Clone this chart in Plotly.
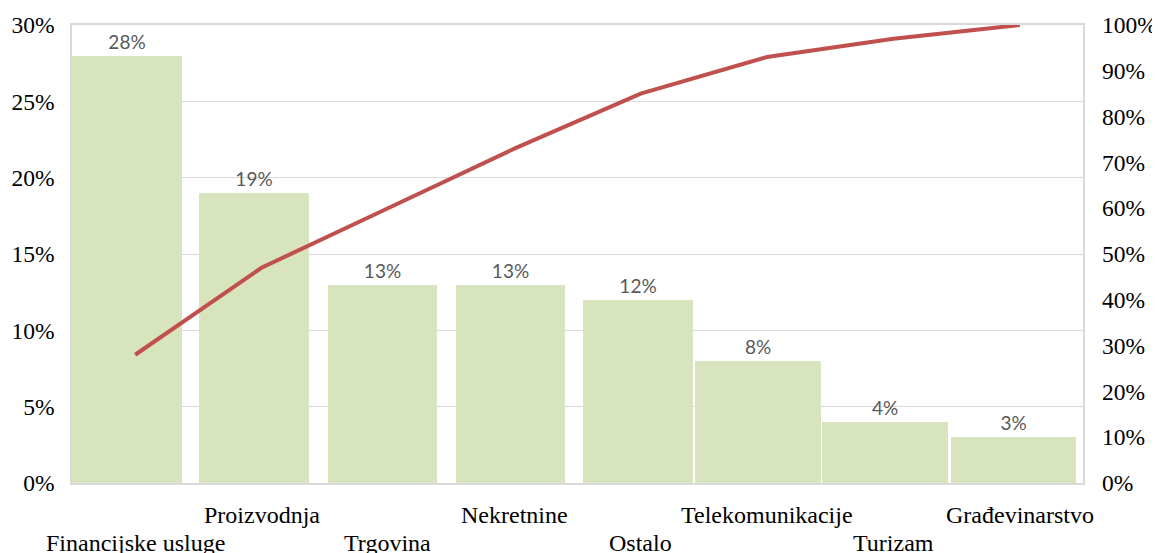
import plotly.graph_objects as go

categories = ["Financijske usluge", "Proizvodnja", "Trgovina", "Nekretnine",
              "Ostalo", "Telekomunikacije", "Turizam", "Građevinarstvo"]
shares = [0.28, 0.19, 0.13, 0.13, 0.12, 0.08, 0.04, 0.03]
cumulative = [0.28, 0.47, 0.60, 0.73, 0.85, 0.93, 0.97, 1.00]
left_ticks = [0, 0.05, 0.10, 0.15, 0.20, 0.25, 0.30]
right_ticks = [0, 0.1, 0.2, 0.3, 0.4, 0.5, 0.6, 0.7, 0.8, 0.9, 1.0]

# styling of the (slightly irregular) bar geometry, in category units
bar_offsets = [-0.5, -0.493, -0.477, -0.464, -0.457, -0.574, -0.566, -0.548]
bar_widths = [0.868, 0.870, 0.867, 0.862, 0.873, 0.997, 0.999, 0.994]

SERIF = "Liberation Serif, Times New Roman, serif"
GRID = "#d9d9d9"

fig = go.Figure()
fig.add_trace(go.Bar(
    x=categories, y=shares,
    offset=bar_offsets, width=bar_widths,
    marker=dict(color="#d7e4bd", line=dict(width=0)),
    texttemplate="%{y:.0%}", textposition="outside",
    textfont=dict(family="Lato, Liberation Sans, sans-serif", size=19, color="#595959"),
    cliponaxis=False, showlegend=False, hoverinfo="skip",
))
fig.add_trace(go.Scatter(
    x=categories, y=cumulative, yaxis="y2", mode="lines",
    line=dict(color="#c0504d", width=4),
    showlegend=False, hoverinfo="skip",
))

annotations = []
for i, c in enumerate(categories):
    annotations.append(dict(
        x=c, xref="x", y=0, yref="paper",
        yshift=-32 if i % 2 == 1 else -60,
        yanchor="middle", xanchor="center", showarrow=False,
        text=c, font=dict(family=SERIF, size=24, color="#000000"),
    ))

# page body has an 8px default margin, so the figure is sized to fit after it
fig.update_layout(
    width=1152, height=545,
    margin=dict(l=64, r=77, t=17, b=70, autoexpand=False),
    paper_bgcolor="white", plot_bgcolor="white",
    bargap=0,
    xaxis=dict(
        type="category", range=[-0.5, 7.5], showticklabels=False,
        showgrid=False, showline=True, linecolor=GRID, linewidth=1.5,
        mirror=True, zeroline=False, ticks="", automargin=False,
    ),
    yaxis=dict(
        range=[0, 0.30], tickvals=left_ticks, tickformat=".0%",
        showgrid=True, gridcolor=GRID, gridwidth=1,
        showline=True, linecolor=GRID, linewidth=1.5, mirror=True,
        zeroline=False, ticks="", ticklabelstandoff=11, automargin=False,
        tickfont=dict(family=SERIF, size=23.5, color="#000000"),
    ),
    yaxis2=dict(
        range=[0, 1.0], tickvals=right_ticks, tickformat=".0%",
        overlaying="y", side="right", showgrid=False, showline=False,
        zeroline=False, ticks="", ticklabelstandoff=18, automargin=False,
        tickfont=dict(family=SERIF, size=23.5, color="#000000"),
    ),
    annotations=annotations,
)

fig.write_html("out.html")
